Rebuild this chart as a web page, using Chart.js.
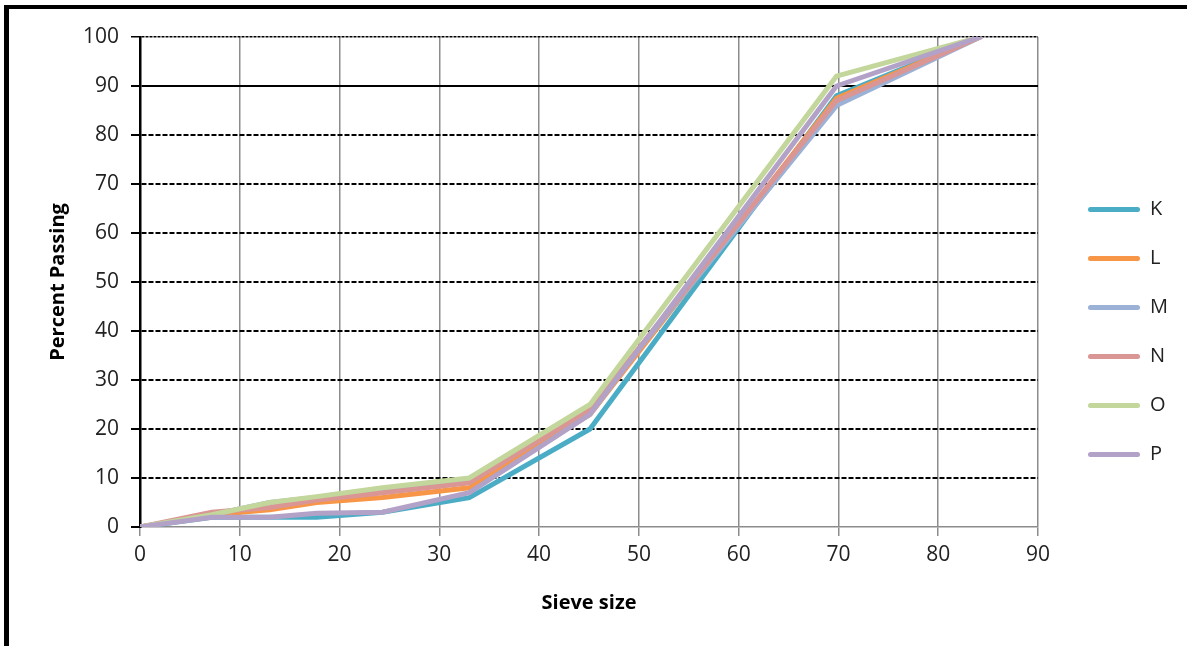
<!DOCTYPE html>
<html>
<head>
<meta charset="utf-8">
<script src="https://cdn.jsdelivr.net/npm/chart.js@4/dist/chart.umd.min.js"></script>
<style>
  body { margin: 0; background: #fff; }
  #wrap { position: relative; width: 1187px; height: 646px; }
  #frame { position: absolute; left: 4px; top: 5px; right: 0; bottom: 0; border-left: 5px solid #000; border-top: 4px solid #000; }
  canvas { position: absolute; left: 0; top: 0; }
</style>
</head>
<body>
<div id="wrap">
  <div id="frame"></div>
  <canvas id="chart" width="1187" height="646"></canvas>
</div>
<script>
// sieve sizes
const sieveSizes = [0, 7.2, 13, 17.7, 24.3, 33, 45.1, 69.8, 84.2];

// percent passing for each sample
const K = [0, 2, 2, 2, 3, 6, 20, 88, 100];
const L = [0, 2.5, 3.5, 5, 6, 8, 23, 87.5, 100];
const M = [0, 2.5, 5, 6, 7.5, 9.5, 24, 86, 100];
const N = [0, 3, 4, 5.5, 7, 9, 24, 87, 100];
const O = [0, 2.5, 5, 6.2, 8, 10, 25, 92, 100];
const P = [0, 2, 2, 2.8, 3, 7, 23, 90, 100];

const seriesNames = ["K", "L", "M", "N", "O", "P"];
const seriesValues = [K, L, M, N, O, P];
const seriesColors = ["#4bacc6", "#f79646", "#9bb1d6", "#d99694", "#c3d69b", "#b3a2c7"];

const xTicks = [0, 10, 20, 30, 40, 50, 60, 70, 80, 90];
const yTicks = [0, 10, 20, 30, 40, 50, 60, 70, 80, 90, 100];

const font = "'Open Sans', 'Liberation Sans', sans-serif";

const datasets = seriesNames.map((name, i) => ({
  label: name,
  data: sieveSizes.map((x, j) => ({ x, y: seriesValues[i][j] })),
  borderColor: seriesColors[i],
  backgroundColor: seriesColors[i],
  borderWidth: 5,
  pointRadius: 0,
  tension: 0,
  // later series are painted on top, like the original
  order: seriesNames.length - i,
  borderCapStyle: "round",
  borderJoinStyle: "miter"
}));

// nudge the legend a little to the right and down
const legendShift = {
  id: "legendShift",
  afterLayout: chart => {
    const lg = chart.legend;
    lg.left += 21; lg.right += 21;
    lg.top += 4; lg.bottom += 4;
  }
};

new Chart(document.getElementById("chart"), {
  type: "line",
  data: { datasets },
  plugins: [legendShift],
  options: {
    responsive: false,
    animation: false,
    layout: { padding: { left: 42, top: 37, right: 30, bottom: 27 } },
    plugins: {
      legend: {
        position: "right",
        labels: {
          boxWidth: 52,
          boxHeight: 5,
          padding: 29,
          color: "#222",
          font: { family: font, size: 20 },
          sort: (a, b) => a.datasetIndex - b.datasetIndex,
          generateLabels: chart => Chart.defaults.plugins.legend.labels.generateLabels(chart)
            .map(item => Object.assign(item, { lineWidth: 0, borderRadius: 2.5 }))
        }
      },
      tooltip: { enabled: false }
    },
    scales: {
      x: {
        type: "linear",
        min: 0,
        max: 90,
        afterBuildTicks: s => { s.ticks = xTicks.map(v => ({ value: v })); },
        afterFit: s => { s.height = 646 - 527 - 27; },
        ticks: { color: "#222", padding: 6, font: { family: font, size: 21 } },
        grid: { color: "#8c8c8c", lineWidth: 1.5, tickLength: 9, tickColor: "#8c8c8c" },
        border: { color: "#8c8c8c", width: 1.5 },
        title: { display: true, text: "Sieve size", color: "#000", padding: { top: 10 }, font: { family: font, size: 20, weight: "bold" } }
      },
      y: {
        min: 0,
        max: 100,
        afterBuildTicks: s => { s.ticks = yTicks.map(v => ({ value: v })); },
        afterFit: s => { s.width = 98; },
        ticks: { color: "#222", padding: 12, font: { family: font, size: 21 } },
        grid: {
          color: c => c.tick && c.tick.value === 0 ? "rgba(0,0,0,0)" : "#000",
          lineWidth: c => c.tick && c.tick.value === 100 ? 1.5 : 2,
          tickLength: 9,
          tickColor: "#000"
        },
        border: {
          color: "#000",
          width: 2.5,
          dash: c => c.tick && c.tick.value === 90 ? [] : (c.tick && c.tick.value === 100 ? [3, 1] : [5, 2])
        },
        title: { display: true, text: "Percent Passing", color: "#000", padding: { bottom: 4 }, font: { family: font, size: 20, weight: "bold" } }
      }
    }
  }
});
</script>
</body>
</html>
